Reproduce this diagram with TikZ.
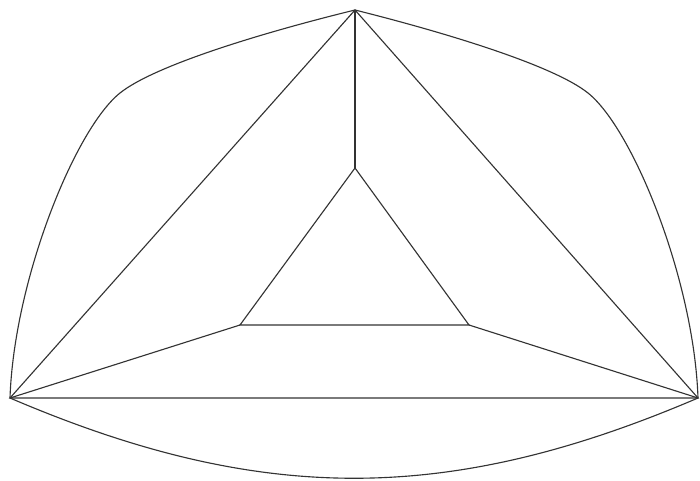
\documentclass[tikz,border=0pt]{standalone}
\begin{document}
\begin{tikzpicture}[x=0.025cm,y=-0.025cm,line width=0.8pt,
  edge/.style={draw=black!80}]
\useasboundingbox (0,0) rectangle (700,481);

% Sommets exterieurs
\coordinate (top) at (355,10);
\coordinate (left) at (10,398);
\coordinate (right) at (698,398);

% Sommets interieurs
\coordinate (itop) at (355,168);
\coordinate (ileft) at (240,325);
\coordinate (iright) at (469,325);

% Triangle exterieur
\draw[edge] (top) -- (left) -- (right) -- cycle;

% Triangle interieur
\draw[edge] (itop) -- (ileft) -- (iright) -- cycle;

% Rayons
\draw[edge] (top) -- (itop);
\draw[edge] (left) -- (ileft);
\draw[edge] (right) -- (iright);

% Arcs courbes
\draw[edge] (top) .. controls (265,32) and (155,65) .. (120,93)
  .. controls (75,129) and (14,280) .. (left);
\draw[edge] (top) .. controls (443,32) and (553,65) .. (588,93)
  .. controls (633,129) and (694,280) .. (right);
\draw[edge] (left) .. controls (260,505) and (448,505) .. (right);

\end{tikzpicture}
\end{document}
